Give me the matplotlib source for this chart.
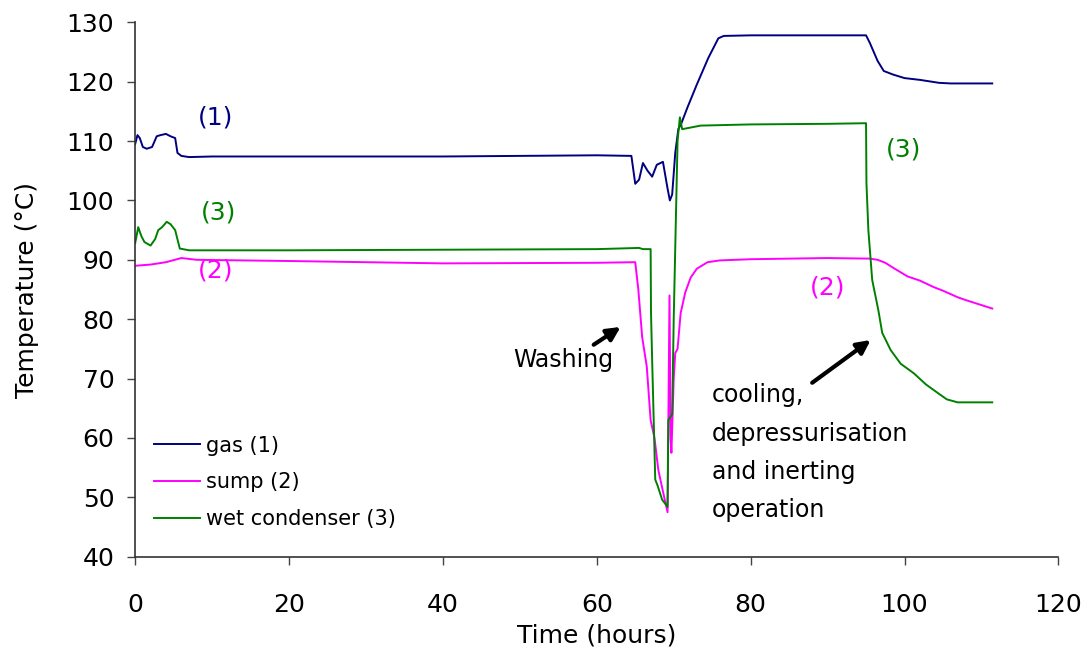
import numpy as np
from matplotlib import pyplot as plt

# gas (1)
gas_t = [0, 0.3, 0.6, 1.0, 1.5, 2.2, 2.8, 3.3, 4.0, 4.6, 5.2, 5.5, 6.0, 7, 10, 20, 40, 60, 64.5, 65.0,
         65.5, 66.0, 66.6, 67.2, 67.8, 68.6, 69.2, 69.5, 69.8, 70.2, 70.6, 71.0, 71.8, 73.0, 74.5, 75.8,
         76.5, 80, 90, 95.0, 95.5, 96.5, 97.3, 98.5, 100, 102, 104.5, 106, 111.4]
gas_T = [109.5, 111, 110.5, 109, 108.7, 109, 110.8, 111, 111.2, 110.8, 110.5, 108, 107.5, 107.3, 107.4,
         107.4, 107.4, 107.6, 107.5, 102.8, 103.5, 106.3, 105, 104, 106, 106.5, 102, 100, 101, 108, 112,
         113, 115.7, 119.5, 124, 127.3, 127.7, 127.8, 127.8, 127.8, 126.5, 123.5, 121.8, 121.2, 120.6,
         120.3, 119.8, 119.7, 119.7]

# sump (2)
sump_t = [0, 2, 4, 6, 8, 20, 40, 60, 65.0, 65.4, 65.9, 66.5, 67.0, 67.5, 68.0, 68.6, 69.2, 69.3, 69.45,
          69.6, 69.7, 70.0, 70.2, 70.5, 70.9, 71.5, 72.2, 73.0, 74.4, 76, 80, 90, 95.5, 96.5, 97.5, 98.6,
          100.4, 102, 103.8, 105, 106.9, 108, 111.4]
sump_T = [89, 89.2, 89.6, 90.3, 90, 89.8, 89.4, 89.5, 89.6, 85, 77, 72, 63, 60, 54.6, 51, 47.5, 62, 84,
          60, 57.5, 70, 74.3, 75, 81, 84.5, 87, 88.5, 89.6, 89.9, 90.1, 90.3, 90.2, 90, 89.5, 88.6, 87.2,
          86.5, 85.4, 84.8, 83.7, 83.2, 81.8]

# wet condenser (3)
wet_t = [0, 0.4, 0.8, 1.2, 2.0, 2.6, 3.0, 3.5, 4.1, 4.6, 5.2, 5.8, 7, 20, 40, 60, 65.5, 66.0, 66.6, 67.0,
         67.05, 67.2, 67.4, 67.6, 67.9, 68.5, 69.2, 69.3, 69.8, 70.0, 70.5, 70.8, 71.1, 73.5, 80, 90, 94.9,
         95.0, 95.05, 95.3, 95.8, 96.6, 97.1, 98.2, 99.5, 101.2, 102.8, 104.3, 105.5, 106.9, 111.4]
wet_T = [92.8, 95.5, 94, 93, 92.4, 93.5, 95, 95.5, 96.4, 96, 95, 91.9, 91.6, 91.6, 91.7, 91.8, 92, 91.8,
         91.8, 91.8, 81, 73, 63, 53, 52, 49.6, 48.4, 63, 64, 80, 110, 114, 112, 112.6, 112.8, 112.9, 113,
         113, 103, 95, 86.6, 81.5, 77.7, 74.8, 72.5, 70.9, 69, 67.6, 66.5, 66, 66]

x_ticks = [0, 20, 40, 60, 80, 100, 120]
y_ticks = [40, 50, 60, 70, 80, 90, 100, 110, 120, 130]

c_gas = '#000080'
c_sump = '#FF00FF'
c_wet = '#008000'

fig = plt.figure(figsize=(10.9, 6.55), dpi=100)
ax = fig.add_axes([0.124, 0.150, 0.847, 0.816])

ax.plot(gas_t, gas_T, color=c_gas, lw=1.4, label='gas (1)')
ax.plot(sump_t, sump_T, color=c_sump, lw=1.4, label='sump (2)')
ax.plot(wet_t, wet_T, color=c_wet, lw=1.4, label='wet condenser (3)')

ax.set_xlim(0, 120)
ax.set_ylim(40, 130)
ax.set_xticks(x_ticks)
ax.set_yticks(y_ticks)
ax.tick_params(axis='both', labelsize=18, direction='out', length=6, width=1, color='#444444')
ax.tick_params(axis='x', pad=20)
ax.tick_params(axis='y', pad=9)
ax.spines['top'].set_visible(False)
ax.spines['right'].set_visible(False)
for s in ['left', 'bottom']:
    ax.spines[s].set_color('#333333')
    ax.spines[s].set_linewidth(1.2)

ax.set_xlabel('Time (hours)', fontsize=18, labelpad=5)
ax.set_ylabel('Temperature (°C)', fontsize=18, labelpad=20)

# curve labels
ax.text(10.4, 114, '(1)', color=c_gas, fontsize=18, ha='center', va='center')
ax.text(10.8, 98, '(3)', color=c_wet, fontsize=18, ha='center', va='center')
ax.text(10.4, 88.2, '(2)', color=c_sump, fontsize=18, ha='center', va='center')
ax.text(99.9, 108.5, '(3)', color=c_wet, fontsize=18, ha='center', va='center')
ax.text(90.0, 85.4, '(2)', color=c_sump, fontsize=18, ha='center', va='center')

# annotations
arrow = dict(arrowstyle='-|>,head_length=0.8,head_width=0.4', color='black', lw=3,
             shrinkA=0, shrinkB=0)
ax.annotate('', xy=(63.1, 78.7), xytext=(59.6, 75.7), arrowprops=arrow)
ax.text(55.7, 73.1, 'Washing', fontsize=17, ha='center', va='center')
ax.annotate('', xy=(95.6, 76.5), xytext=(88.0, 69.3), arrowprops=arrow)
ax.text(75.0, 57.5, 'cooling,\ndepressurisation\nand inerting\noperation', fontsize=17,
        ha='left', va='center', linespacing=1.75)

ax.legend(loc='lower left', bbox_to_anchor=(0.0, 0.017), frameon=False, fontsize=15,
          handlelength=2.2, handletextpad=0.3, labelspacing=0.8)

plt.savefig('out.png', dpi=100)
